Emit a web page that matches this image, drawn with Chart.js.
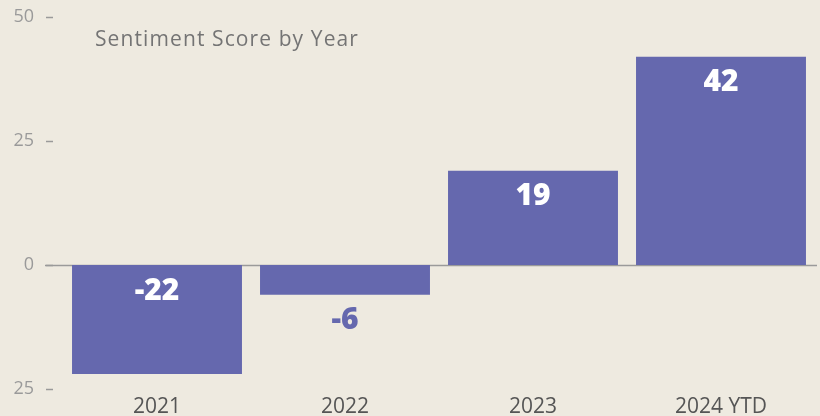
<!DOCTYPE html>
<html><head><meta charset="utf-8">
<script src="https://cdn.jsdelivr.net/npm/chart.js@4"></script>
<style>html,body{margin:0;padding:0;background:#EEEAE0;}#wrap{width:820px;height:416px;}</style>
</head><body><div id="wrap"><canvas id="c" width="820" height="416"></canvas></div>
<script>
const categories = ["2021", "2022", "2023", "2024 YTD"];
const scores = [-22, -6, 19, 42];
const yTicks = [-25, 0, 25, 50];
const chartTitle = "Sentiment Score by Year";
const FONT = "'Open Sans', Lato, sans-serif";
const BAR = "#6568AE";

const bg = {id:'bg', beforeDraw(c){const x=c.ctx;x.save();x.fillStyle='#EEEAE0';x.fillRect(0,0,c.width,c.height);x.restore();}};
const axisMarks = {id:'axisMarks', beforeDatasetsDraw(c){
  const x=c.ctx, ys=c.scales.y, a=c.chartArea; x.save();
  x.strokeStyle='#9a9a9a'; x.lineWidth=1.5;
  ys.ticks.forEach(t=>{const py=Math.round(ys.getPixelForValue(t.value))+0.5;
    x.beginPath(); x.moveTo(46,py); x.lineTo(53,py); x.stroke();
    if(t.value===0){x.beginPath(); x.moveTo(45,py); x.lineTo(817,py); x.stroke();}
  });
  x.fillStyle='#747474'; x.font="21px "+FONT; x.textBaseline='middle'; x.textAlign='left';
  try{x.letterSpacing='1.1px';}catch(e){}
  x.fillText(chartTitle, a.left+32, a.top+23);
  x.restore();
}};
const labels = {id:'labels', afterDatasetsDraw(c){
  const x=c.ctx; const meta=c.getDatasetMeta(0); x.save();
  x.font="800 30px "+FONT; x.textAlign='center'; x.textBaseline='middle';
  meta.data.forEach((b,i)=>{const top=Math.min(b.y,b.base), bot=Math.max(b.y,b.base);
    if(bot-top>50){x.fillStyle='#ffffff'; x.fillText(String(scores[i]), b.x, top+26);}
    else {x.fillStyle=BAR; x.fillText(String(scores[i]), b.x, bot+26);}
  }); x.restore();
}};

new Chart(document.getElementById('c'), {
  type:'bar',
  data:{labels:categories, datasets:[{data:scores, backgroundColor:BAR, borderWidth:0, barPercentage:0.904, categoryPercentage:1}]},
  options:{responsive:false, animation:false, devicePixelRatio:1,
    layout:{padding:{top:17,right:5,left:0,bottom:0}},
    plugins:{legend:{display:false}, tooltip:{enabled:false}, title:{display:false}},
    scales:{
      x:{grid:{display:false}, border:{display:false},
        ticks:{color:'#555555', font:{family:FONT,size:21}, padding:-3, maxRotation:0},
        afterFit(s){s.height=27; s.paddingLeft=0; s.paddingRight=0;}},
      y:{min:-25,max:50, grid:{display:false}, border:{display:false},
        afterBuildTicks(s){s.ticks=yTicks.map(v=>({value:v}));},
        ticks:{color:'#9a9a9a', font:{family:FONT,size:18}, padding:21, callback:(v)=>String(Math.abs(v))},
        afterFit(s){s.width=63; s.paddingTop=0; s.paddingBottom=0;}}
    }},
  plugins:[bg,axisMarks,labels]
});
</script></body></html>
